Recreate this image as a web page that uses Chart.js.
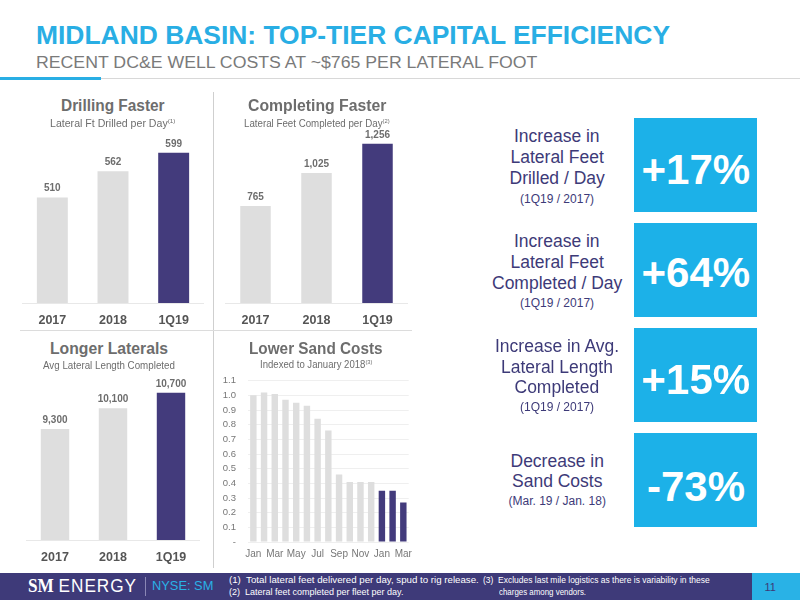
<!DOCTYPE html>
<html><head><meta charset="utf-8">
<script src="https://cdn.jsdelivr.net/npm/chart.js@4.4.1/dist/chart.umd.min.js"></script>
<style>
html,body{margin:0;padding:0;}
body{width:800px;height:600px;position:relative;overflow:hidden;background:#fff;font-family:"Liberation Sans",Arial,sans-serif;}
.t{position:absolute;white-space:nowrap;line-height:1;}
.box{position:absolute;background:#1cb1e8;}
.cw{position:absolute;}
.ln{position:absolute;}
sup{font-size:60%;vertical-align:super;line-height:0;}
</style>
</head><body>

<!-- decorative layout -->
<div class="ln" style="left:0;top:78px;width:800px;height:1px;background:#d8d8d8"></div>
<div class="ln" style="left:0;top:77px;width:101px;height:3px;background:#29aee4"></div>
<div class="ln" style="left:213px;top:92px;width:1px;height:476px;background:#cfcfcf"></div>
<div class="ln" style="left:20px;top:330px;width:392px;height:1px;background:#dcdcdc"></div>

<div class="box" style="left:634px;top:118px;width:123px;height:94px"></div>
<div class="box" style="left:634px;top:223px;width:123px;height:94px"></div>
<div class="box" style="left:634px;top:328px;width:123px;height:94px"></div>
<div class="box" style="left:634px;top:433px;width:123px;height:94px"></div>

<div class="ln" style="left:0;top:573px;width:800px;height:27px;background:#3e3a79"></div>
<div class="ln" style="left:752px;top:573px;width:48px;height:27px;background:#29b2e6"></div>
<div class="ln" style="left:145px;top:577px;width:1px;height:19px;background:#8a87b5"></div>

<div id="charts">
<div class="cw" id="w1"><canvas id="c1"></canvas></div>
<div class="cw" id="w2"><canvas id="c2"></canvas></div>
<div class="cw" id="w3"><canvas id="c3"></canvas></div>
<div class="cw" id="w4"><canvas id="c4"></canvas></div>
</div>

<div id="texts"></div>

<script>
// ---------------- DATA ----------------
const yearCats = ["2017", "2018", "1Q19"];
const drilledPerDay = [510, 562, 599];
const completedPerDay = [765, 1025, 1256];
const lateralLength = [9300, 10100, 10700];
const sandMonths = ["Jan","Feb","Mar","Apr","May","Jun","Jul","Aug","Sep","Oct","Nov","Dec","Jan","Feb","Mar"];
const sandIndex = [1.00, 1.02, 1.01, 0.97, 0.95, 0.93, 0.84, 0.76, 0.46, 0.41, 0.41, 0.41, 0.35, 0.35, 0.27];
const sandTickStep = 0.1;
const sandMax = 1.1;

const GRAY = '#dedede';
const PURPLE = '#433b7c';
const FONT = '"Liberation Sans", Arial, sans-serif';

// ---------------- TEXT ----------------
// [text(html), anchor x, center y, font-size, weight, color, target width or 0, align]
const texts = [
  ["MIDLAND BASIN: TOP-TIER CAPITAL EFFICIENCY", 36, 35, 25, 700, '#29aee4', 634, 'left'],
  ["RECENT DC&amp;E WELL COSTS AT ~$765 PER LATERAL FOOT", 36, 62.5, 16, 400, '#7a7a7a', 501, 'left'],

  ["Drilling Faster", 113, 106, 16, 700, '#6d6d6d', 104, 'center'],
  ["Lateral Ft Drilled per Day<sup>(1)</sup>", 113, 124, 10, 400, '#6d6d6d', 126, 'center'],
  ["Completing Faster", 317, 106, 16, 700, '#6d6d6d', 138, 'center'],
  ["Lateral Feet Completed per Day<sup>(2)</sup>", 317, 124, 10, 400, '#6d6d6d', 146, 'center'],
  ["Longer Laterals", 109, 349, 16, 700, '#6d6d6d', 118, 'center'],
  ["Avg Lateral Length Completed", 109, 366, 10, 400, '#6d6d6d', 132, 'center'],
  ["Lower Sand Costs", 316, 349, 16, 700, '#6d6d6d', 134, 'center'],
  ["Indexed to January 2018<sup>(3)</sup>", 316, 365, 10, 400, '#6d6d6d', 112, 'center'],

  ["Increase in", 557, 137, 17.5, 400, '#3d3a78', 0, 'center'],
  ["Lateral Feet", 557, 158, 17.5, 400, '#3d3a78', 0, 'center'],
  ["Drilled / Day", 557, 179, 17.5, 400, '#3d3a78', 0, 'center'],
  ["(1Q19 / 2017)", 557, 198.5, 12, 400, '#3d3a78', 0, 'center'],
  ["+17%", 696, 170, 42, 700, '#ffffff', 0, 'center'],

  ["Increase in", 557, 242, 17.5, 400, '#3d3a78', 0, 'center'],
  ["Lateral Feet", 557, 263, 17.5, 400, '#3d3a78', 0, 'center'],
  ["Completed / Day", 557, 284, 17.5, 400, '#3d3a78', 0, 'center'],
  ["(1Q19 / 2017)", 557, 303, 12, 400, '#3d3a78', 0, 'center'],
  ["+64%", 696, 273, 42, 700, '#ffffff', 0, 'center'],

  ["Increase in Avg.", 557, 347, 17.5, 400, '#3d3a78', 0, 'center'],
  ["Lateral Length", 557, 368, 17.5, 400, '#3d3a78', 0, 'center'],
  ["Completed", 557, 388, 17.5, 400, '#3d3a78', 0, 'center'],
  ["(1Q19 / 2017)", 557, 407, 12, 400, '#3d3a78', 0, 'center'],
  ["+15%", 696, 380, 42, 700, '#ffffff', 0, 'center'],

  ["Decrease in", 557, 462, 17.5, 400, '#3d3a78', 0, 'center'],
  ["Sand Costs", 557, 482, 17.5, 400, '#3d3a78', 0, 'center'],
  ["(Mar. 19 / Jan. 18)", 557, 501, 12, 400, '#3d3a78', 0, 'center'],
  ["-73%", 696, 487, 42, 700, '#ffffff', 0, 'center'],

  ["<span style=\"font-family:'Liberation Serif',serif;font-weight:700\">SM</span> <span style=\"font-weight:400;letter-spacing:1px\">ENERGY</span>", 28, 586, 18, 400, '#ffffff', 109, 'left'],
  ["NYSE: SM", 152, 586, 12, 400, '#29b2e6', 61, 'left'],
  ["(1)&nbsp; Total lateral feet delivered per day, spud to rig release.", 229, 580, 9, 400, '#ffffff', 250, 'left'],
  ["(2)&nbsp; Lateral feet completed per fleet per day.", 229, 592, 9, 400, '#ffffff', 174, 'left'],
  ["(3)&nbsp; Excludes last mile logistics as there is variability in these", 483, 580, 9, 400, '#ffffff', 227, 'left'],
  ["charges among vendors.", 499, 592, 9, 400, '#ffffff', 87, 'left'],
  ["11", 770, 587, 11, 400, '#3d3a78', 0, 'center'],
];

const holder = document.getElementById('texts');
texts.forEach(([html, x, cy, fs, fw, col, tw, align]) => {
  const d = document.createElement('div');
  d.className = 't';
  d.innerHTML = html;
  d.style.fontSize = fs + 'px';
  d.style.fontWeight = fw;
  d.style.color = col;
  d.style.fontFamily = FONT;
  holder.appendChild(d);
  const w0 = d.offsetWidth;
  const w = tw || w0;
  const s = w / w0;
  d.style.top = (cy - fs / 2) + 'px';
  d.style.transformOrigin = 'left center';
  d.style.transform = 'scaleX(' + s + ')';
  d.style.left = (align === 'center' ? x - w / 2 : x) + 'px';
});

// ---------------- CHARTS ----------------
const valueLabels = {
  id: 'valueLabels',
  afterDatasetsDraw(chart) {
    const ctx = chart.ctx;
    const meta = chart.getDatasetMeta(0);
    const data = chart.data.datasets[0].data;
    ctx.save();
    ctx.font = 'bold 10px ' + FONT;
    ctx.fillStyle = '#6d6d6d';
    ctx.textAlign = 'center';
    ctx.textBaseline = 'alphabetic';
    meta.data.forEach((el, i) => {
      ctx.fillText(data[i].toLocaleString('en-US'), el.x, el.y - 6);
    });
    ctx.restore();
  }
};

function place(id, left, top, width, height) {
  const w = document.getElementById(id);
  w.style.left = left + 'px'; w.style.top = top + 'px';
  w.style.width = width + 'px'; w.style.height = height + 'px';
}

function barChart(canvasId, values, yMin, yMax, barPct) {
  const colors = values.map((v, i) => i === values.length - 1 ? PURPLE : GRAY);
  return new Chart(document.getElementById(canvasId), {
    type: 'bar',
    data: { labels: yearCats, datasets: [{ data: values, backgroundColor: colors, borderWidth: 0,
      barPercentage: barPct, categoryPercentage: 1 }] },
    options: {
      responsive: true, maintainAspectRatio: false, animation: false,
      layout: { padding: 0 },
      plugins: { legend: { display: false }, tooltip: { enabled: false } },
      scales: {
        y: { display: false, min: yMin, max: yMax },
        x: {
          grid: { display: false, drawTicks: false },
          border: { display: true, color: '#e8e8e8' },
          ticks: { padding: 10, color: '#555', font: { family: FONT, size: 12.5, weight: 'bold' } }
        }
      }
    },
    plugins: [valueLabels]
  });
}

// Drilling Faster: plot 125..305
place('w1', 22, 125, 182, 213);
barChart('c1', drilledPerDay, 300, 654, 0.51);
// Completing Faster
place('w2', 225, 125, 183, 213);
barChart('c2', completedPerDay, 0, 1404, 0.5);
// Longer Laterals: plot 370..541
place('w3', 26, 370, 174, 205);
barChart('c3', lateralLength, 5000, 11584, 0.49);

// Lower Sand Costs
place('w4', 208, 363, 210, 203);
new Chart(document.getElementById('c4'), {
  type: 'bar',
  data: { labels: sandMonths, datasets: [{ data: sandIndex,
    backgroundColor: sandIndex.map((v, i) => i >= 12 ? PURPLE : GRAY),
    borderWidth: 0, barPercentage: 0.6, categoryPercentage: 1 }] },
  options: {
    responsive: true, maintainAspectRatio: false, animation: false,
    layout: { padding: { top: 0, right: 2 } },
    plugins: { legend: { display: false }, tooltip: { enabled: false } },
    scales: {
      y: {
        min: 0, max: sandMax,
        afterFit(scale) { scale.width = 40; },
        grid: { color: '#efefef', drawTicks: false },
        border: { display: false },
        ticks: { stepSize: sandTickStep, autoSkip: false, padding: 12, color: '#777', font: { family: FONT, size: 9.5 },
          callback: v => (Math.abs(v) < 1e-9 ? '-' : Number(v).toFixed(1)) }
      },
      x: {
        grid: { display: false, drawTicks: false },
        border: { display: false },
        ticks: { autoSkip: false, maxRotation: 0, padding: 6, color: '#777', font: { family: FONT, size: 10 },
          callback: function (v, i) { return i % 2 === 0 ? this.getLabelForValue(v) : ''; } }
      }
    }
  }
});
</script>
</body></html>
